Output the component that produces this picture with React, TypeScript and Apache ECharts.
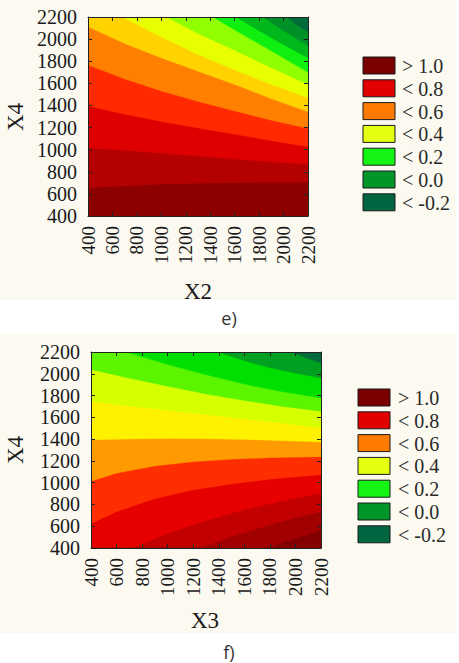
import React, { useEffect, useRef } from "react";
import * as echarts from "echarts";

// ---------- axis / tick data ----------
const axisMin = 400;
const axisMax = 2200;
const axisStep = 200;

// ---------- legend ----------
const legendLabels = ["> 1.0", "< 0.8", "< 0.6", "< 0.4", "< 0.2", "< 0.0", "< -0.2"];
const legendColors = ["#7A0000", "#E00000", "#FF7A00", "#E4FF10", "#14F514", "#00962A", "#006642"];

// ---------- panel e (X2 vs X4): contour boundaries, lower band -> upper band ----------
const eBaseColor = "#8C0000";
const eC1 = [[400, 655], [700, 672], [1000, 688], [1400, 698], [1800, 702], [2200, 705]];
const eC2 = [[400, 1015], [800, 985], [1200, 950], [1600, 915], [2000, 882], [2200, 866]];
const eC3 = [[400, 1395], [700, 1320], [1000, 1255], [1300, 1195], [1600, 1140], [1900, 1080], [2200, 1027]];
const eC4 = [[400, 1765], [700, 1640], [1000, 1530], [1300, 1435], [1600, 1350], [1900, 1265], [2200, 1192]];
const eC5 = [[400, 2112], [700, 1960], [1000, 1830], [1300, 1710], [1600, 1590], [1900, 1460], [2200, 1342]];
const eC6 = [[680, 2200], [1000, 2020], [1300, 1860], [1600, 1720], [1900, 1590], [2200, 1470]];
const eC7 = [[1040, 2200], [1300, 2050], [1600, 1900], [1900, 1740], [2200, 1590]];
const eC8 = [[1420, 2200], [1700, 2020], [1950, 1860], [2200, 1700]];
const eC9 = [[1610, 2200], [1900, 2010], [2200, 1830]];
const eC10 = [[1830, 2200], [2000, 2075], [2200, 1940]];
const eC11 = [[2030, 2200], [2100, 2135], [2200, 2065]];
const eCurves = [eC1, eC2, eC3, eC4, eC5, eC6, eC7, eC8, eC9, eC10, eC11];
const eSides = ["above", "above", "above", "above", "above", "above", "above", "above", "above", "above", "above"];
const eColors = ["#B40000", "#DE0000", "#FF2A00", "#FF7F00", "#FFD200", "#E8FF00", "#90FF00", "#10F010", "#00B81C", "#009028", "#006A38"];

// ---------- panel f (X3 vs X4) ----------
const fBaseColor = "#FF9A00";
const fUp1 = [[400, 1392], [700, 1402], [1000, 1405], [1300, 1403], [1600, 1396], [1900, 1386], [2200, 1373]];
const fUp2 = [[400, 1745], [700, 1705], [1000, 1665], [1300, 1625], [1600, 1585], [1900, 1545], [2200, 1502]];
const fUp3 = [[400, 2040], [700, 1960], [1000, 1885], [1300, 1815], [1600, 1755], [1900, 1700], [2200, 1655]];
const fUp4 = [[676, 2200], [1000, 2085], [1300, 1990], [1600, 1905], [1900, 1835], [2200, 1778]];
const fUp5 = [[1394, 2200], [1600, 2120], [1800, 2055], [2000, 2005], [2200, 1961]];
const fUp6 = [[1967, 2200], [2100, 2140], [2200, 2099]];
const fDn1 = [[400, 1010], [600, 1085], [900, 1150], [1200, 1190], [1500, 1212], [1800, 1226], [2200, 1235]];
const fDn2 = [[400, 620], [600, 730], [900, 850], [1200, 930], [1500, 985], [1800, 1030], [2200, 1070]];
const fDn3 = [[730, 400], [1000, 530], [1300, 650], [1600, 750], [1900, 830], [2200, 900]];
const fDn4 = [[1260, 400], [1500, 500], [1800, 610], [2000, 675], [2200, 732]];
const fDn5 = [[1780, 400], [1950, 465], [2100, 520], [2200, 563]];
const fCurves = [fUp1, fUp2, fUp3, fUp4, fUp5, fUp6, fDn1, fDn2, fDn3, fDn4, fDn5];
const fSides = ["above", "above", "above", "above", "above", "above", "below", "below", "below", "below", "below"];
const fColors = ["#FFF200", "#D6FF00", "#5CF500", "#00E000", "#00A020", "#006A3A", "#FF2E00", "#E60000", "#C20000", "#A00000", "#820000"];

const cream = "#FBF9F0";
const textColor = "#1a1a1a";
const serif = "'Liberation Serif', 'Times New Roman', serif";

function makeRenderItem(curves: number[][][], sides: string[], colors: string[]) {
  return (params: any, api: any) => {
    const i = params.dataIndex;
    const closing =
      sides[i] === "above"
        ? [[axisMax, axisMax], [axisMin, axisMax]]
        : [[axisMax, axisMin], [axisMin, axisMin]];
    const pts = curves[i].concat(closing).map((p) => api.coord(p));
    return {
      type: "polygon",
      shape: { points: pts },
      style: { fill: colors[i], stroke: colors[i], lineWidth: 0.3 },
      silent: true,
    };
  };
}

function xAx(grid: number, pos: "bottom" | "top") {
  return {
    type: "value",
    gridIndex: grid,
    position: pos,
    min: axisMin,
    max: axisMax,
    interval: axisStep,
    z: 10,
    axisLine: { show: true, onZero: false, lineStyle: { color: "#222", width: 1 } },
    axisTick: { show: true, inside: true, length: 4, lineStyle: { color: "#222" } },
    splitLine: { show: false },
    axisLabel: {
      show: pos === "bottom",
      rotate: 90,
      margin: 10,
      fontFamily: serif,
      fontSize: 19,
      color: textColor,
      formatter: (v: number) => String(v),
    },
  };
}

function yAx(grid: number, pos: "left" | "right") {
  return {
    type: "value",
    gridIndex: grid,
    position: pos,
    min: axisMin,
    max: axisMax,
    interval: axisStep,
    z: 10,
    axisLine: { show: true, onZero: false, lineStyle: { color: "#222", width: 1 } },
    axisTick: { show: true, inside: true, length: 4, lineStyle: { color: "#222" } },
    splitLine: { show: false },
    axisLabel: {
      show: pos === "left",
      margin: 11,
      fontFamily: serif,
      fontSize: 20,
      color: textColor,
      formatter: (v: number) => String(v),
    },
  };
}

function legendGraphics(boxX: number, firstTop: number, textX: number) {
  const out: any[] = [];
  legendLabels.forEach((lab, i) => {
    const top = firstTop + i * 22.8;
    out.push({
      type: "rect",
      shape: { x: boxX, y: top, width: 32, height: 17 },
      style: { fill: legendColors[i], stroke: "#1a1a1a", lineWidth: 1 },
    });
    out.push({
      type: "text",
      x: textX,
      y: top + 9,
      style: {
        text: lab,
        fontFamily: serif,
        fontSize: 20,
        fill: "#2a2a2a",
        align: "left",
        verticalAlign: "middle",
      },
    });
  });
  return out;
}

function label(text: string, x: number, y: number, size: number, rot = 0, font = serif, color = textColor) {
  return {
    type: "text",
    x,
    y,
    rotation: rot,
    style: { text, fontFamily: font, fontSize: size, fill: color, align: "center", verticalAlign: "middle" },
  };
}

export default function App() {
  const ref = useRef<HTMLDivElement>(null);
  useEffect(() => {
    if (!ref.current) return;
    const chart = echarts.init(ref.current, undefined, { renderer: "svg" });
    chart.setOption({
      animation: false,
      backgroundColor: "#ffffff",
      grid: [
        { left: 88, top: 17, width: 220, height: 199, show: true, backgroundColor: eBaseColor, borderWidth: 0 },
        { left: 91, top: 352, width: 230, height: 196, show: true, backgroundColor: fBaseColor, borderWidth: 0 },
      ],
      xAxis: [xAx(0, "bottom"), xAx(0, "top"), xAx(1, "bottom"), xAx(1, "top")],
      yAxis: [yAx(0, "left"), yAx(0, "right"), yAx(1, "left"), yAx(1, "right")],
      series: [
        {
          type: "custom",
          xAxisIndex: 0,
          yAxisIndex: 0,
          clip: true,
          data: eCurves.map((c, i) => [c[0][0], c[0][1], i]),
          renderItem: makeRenderItem(eCurves, eSides, eColors),
        },
        {
          type: "custom",
          xAxisIndex: 2,
          yAxisIndex: 2,
          clip: true,
          data: fCurves.map((c, i) => [c[0][0], c[0][1], i]),
          renderItem: makeRenderItem(fCurves, fSides, fColors),
        },
      ],
      graphic: [
        { type: "rect", z: -10, shape: { x: 0, y: 0, width: 456, height: 300 }, style: { fill: cream } },
        { type: "rect", z: -10, shape: { x: 0, y: 334, width: 456, height: 299 }, style: { fill: cream } },
        label("X4", 15, 117, 23, Math.PI / 2),
        label("X2", 198, 291, 23),
        label("e)", 229, 318, 18, 0, "'Open Sans', sans-serif", "#333"),
        label("X4", 15, 450, 23, Math.PI / 2),
        label("X3", 205, 620, 23),
        label("f)", 229, 652, 18, 0, "'Open Sans', sans-serif", "#333"),
        ...legendGraphics(363, 57, 402),
        ...legendGraphics(358, 389, 398),
      ],
    });
    return () => chart.dispose();
  }, []);
  return (
    <div
      ref={ref}
      style={{ position: "absolute", left: 0, top: 0, width: 459, height: 663 }}
    />
  );
}
